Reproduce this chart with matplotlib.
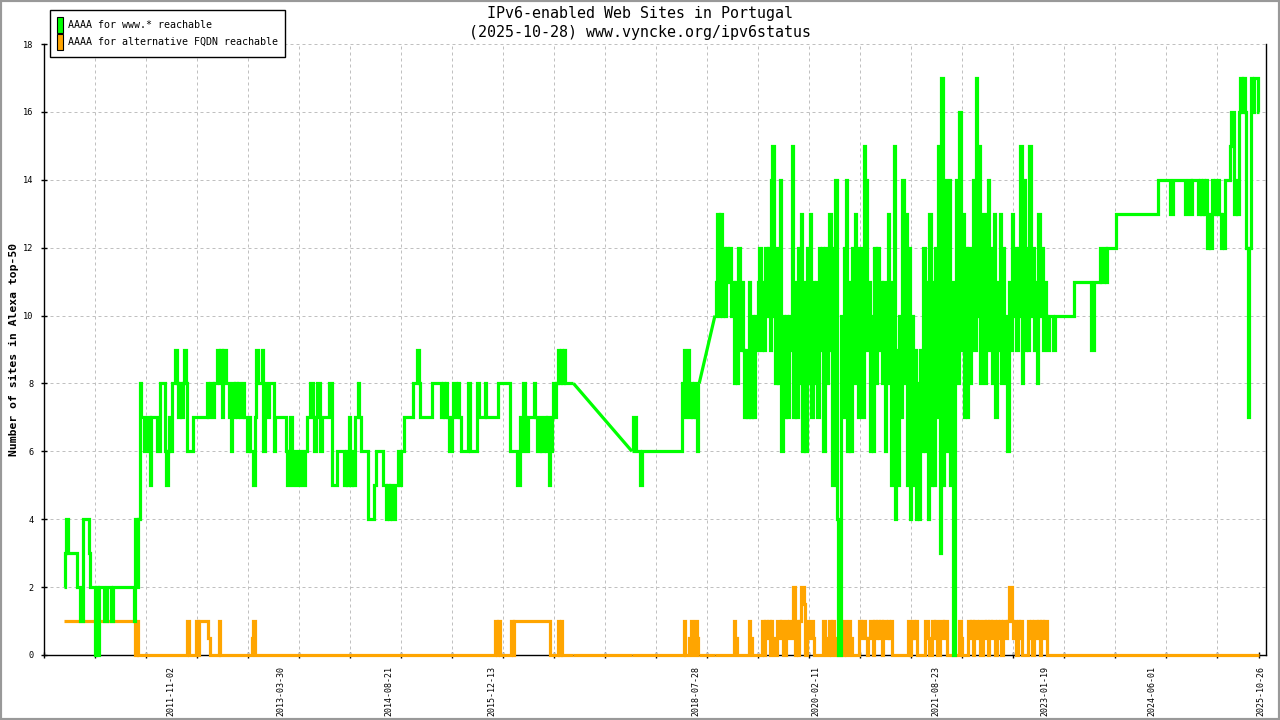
import numpy as np
import pandas as pd
import matplotlib
matplotlib.use('Agg')
import matplotlib.pyplot as plt
from matplotlib.patches import Patch, Rectangle

# weekly samples, three runs; the holes between runs are drawn as straight lines
start_a = '2010-06-19'
start_b = '2017-10-01'
start_c = '2018-10-25'
step = '7D'

# AAAA for www.* reachable
www_a1 = ([2, 3, 4, 3, 3, 3, 3, 3, 3, 2, 2, 1, 1, 4, 4, 4, 4, 3, 2, 2, 2, 0, 2, 0, 2,
           2, 2, 1, 1, 2, 2, 2, 1] + [2] * 14 + [1, 4, 2, 4])
www_a2 = ([8, 7, 7, 6, 6, 7, 7, 5, 7, 7, 7, 7, 6, 6, 8, 8, 8, 6, 5, 6, 7, 6,
           8, 8, 9, 8, 7, 8, 7, 8, 9, 8, 6, 6, 6, 6] + [7] * 9 +
          [8, 7, 8, 8, 7, 8, 8, 9, 8, 9, 7, 9, 9, 8, 8, 7, 6,
           8, 7, 8, 7, 8, 7, 7, 8, 7, 7, 6, 7, 6, 6, 5, 7, 9, 8, 8, 8, 9,
           6, 8, 7, 7, 8, 8, 8, 6] + [7] * 7 +
          [6, 5, 6, 7, 5, 6, 6, 5, 5, 6, 6, 5, 5, 6, 7, 7, 8, 8, 7, 6, 7, 8, 8,
           6, 7, 7, 7, 7, 7, 8, 8])
www_a3 = ([5, 5, 5, 6, 6, 6, 6, 6, 5, 6, 5, 7, 5, 6, 5, 7, 7, 8, 7] + [6] * 5 + [4] * 4 +
          [5] + [6] * 5 + [5, 5, 4, 5, 4, 5, 4, 4, 5, 5, 6, 5, 6, 6] + [7] * 6 +
          [8, 8, 8, 9, 8] + [7] * 8 + [8] * 6 + [7, 8, 7, 8, 7, 6, 6, 7, 8, 8, 7, 8, 7] +
          [6, 6, 6, 6, 6, 8, 6, 6, 6, 6, 6, 8, 7, 7, 7, 7, 8, 7] + [7] * 7 + [8] * 8 +
          [6, 6, 6, 6, 6, 5, 5, 7, 6, 8, 7, 6, 7, 7, 7, 7, 8, 7, 6, 6,
           7, 6, 6, 7, 6, 7, 5, 6, 7, 8, 7, 8, 9, 8, 9, 8, 9, 8] + [8] * 5)
www_b = [6, 7, 7, 6, 6, 6, 5, 6] + [6] * 26 + [8, 9, 7, 8, 9, 7, 8, 7, 8, 7, 6, 8]
www_c1 = [10, 11, 13, 10, 13, 10, 12, 10, 12, 11, 12, 10, 11, 8, 11, 8, 12, 9, 11, 9,
          7, 9, 7, 11, 7, 10, 7, 10, 9, 11, 12, 9, 11, 9, 12, 10, 12, 9, 14, 15,
          10, 8, 12, 8, 14, 6, 10, 7, 10, 7, 10, 9, 15, 7, 11, 7, 12, 8, 13, 6,
          11, 6, 12, 8, 13, 7, 11, 8, 11, 7, 12, 9, 12, 6, 12, 8, 11, 13, 9, 5,
          12, 14, 4, 0, 0, 10, 7, 12, 14, 6, 11, 6, 12, 8, 13, 9, 7, 12, 8, 7,
          15, 14, 9, 11, 6, 10, 6, 12, 8, 12, 9, 11, 8, 11, 6, 10, 13, 8, 5, 11]
www_c2 = [15, 4, 9, 5, 10, 7, 14, 8, 13, 5, 12, 4, 10, 5, 9, 4, 8, 4, 9, 6,
          12, 6, 11, 4, 13, 5, 11, 5, 12, 7, 15, 3, 17, 5, 14, 6, 12, 14, 5, 11,
          0, 9, 14, 8, 16, 9, 13, 7, 12, 7, 12, 8, 11, 14, 9, 17, 10, 15, 8, 13,
          10, 8, 13, 14, 9, 12, 8, 13, 7, 11, 9, 13, 8, 12, 10, 8, 6, 11, 9, 13,
          10, 12, 9, 12, 10, 15, 8, 14, 9, 12, 9, 15, 10, 12, 9, 11, 8, 13, 10, 12,
          9, 11, 10, 9, 10, 10, 10, 9, 10, 10]
www_c3 = ([10] * 11 + [11] * 11 + [9, 9] + [11] * 4 +
          [12, 11, 11, 12, 11, 12, 12, 12, 12, 12, 12] + [13] * 28 + [14] * 8 + [13, 13] +
          [14] * 8 + [13, 13, 14, 14, 13] + [14] * 4 +
          [13, 14, 13, 14, 13, 14, 12, 13, 12, 14, 13, 14, 13, 14, 13, 12, 13, 12] +
          [14, 14, 14, 15, 16, 16, 13, 14, 13, 16, 17, 16, 17, 16, 12, 7, 12, 17, 16, 17, 17, 17, 16])

# AAAA for alternative FQDN reachable
alt_a = ([1] * 48 + [0, 1, 0] + [0] * 32 + [1] + [0] * 4 +
         [0, 1, 0, 1, 1, 1, 1, 1, 1, 0.5, 0] + [0] * 5 + [1] + [0] * 21 + [0.5, 1] +
         [0] * 161 + [1, 0, 1] + [0] * 8 + [1, 0] + [1] * 24 + [0] * 5 + [1, 0, 1, 0] + [0] * 7)
alt_b = [0] * 35 + [1, 0, 0, 0, 0.5, 1, 0, 0, 1, 0.5, 0]
alt_c = ([0] * 13 + [1, 0.5] + [0] * 8 + [1, 0.5] + [0] * 7 +
         [1, 0, 1, 0.5, 1, 0, 1, 0.5, 0, 0] + [1, 1, 0.5, 1, 0, 0] +
         [1, 0.5, 1, 1, 0.5, 2, 0, 1, 0] + [1, 2, 2, 1.5, 0] + [1, 0.5, 1, 1, 0.5, 0] +
         [0] * 5 + [1, 0.5, 0, 0, 1, 0, 1, 0.5, 0] + [0] * 5 + [1, 0, 0] + [1, 0.5, 0] +
         [0] * 4 + [1, 0.5, 1, 1, 0.5, 0] + [0.5, 1, 1, 0] + [1, 0.5, 1, 0.5, 1, 0] +
         [1, 1, 0.5, 1, 0.5, 1, 0] + [0] * 10 + [1, 0, 0.5, 1, 0.5, 1, 0] + [0] * 4 +
         [1, 1, 0.5, 0, 0] + [1, 0.5, 1, 0] + [0, 1, 1, 0.5, 1, 1, 0] + [0] * 7 +
         [1, 0.5, 0] + [0] * 3 + [1, 0.5, 1, 0, 1, 1, 0.5, 1, 0, 0] +
         [1, 0.5, 1, 0, 1, 0.5, 1, 1, 0, 1, 0.5, 1, 0, 1, 1, 0.5, 1, 2, 2, 1, 0.5, 1, 0, 1, 0.5, 1] +
         [0] * 4 + [1, 0.5, 1, 0, 1, 1, 0.5, 1, 0, 1, 0.5, 1, 1] + [0] * 142)

tick_dates = ['2011-11-02', '2013-03-30', '2014-08-21', '2015-12-13', '2018-07-28',
              '2020-02-11', '2021-08-23', '2023-01-19', '2024-06-01', '2025-10-26']

title1 = 'IPv6-enabled Web Sites in Portugal'
title2 = '(2025-10-28) www.vyncke.org/ipv6status'
ylabel = 'Number of sites in Alexa top-50'
lab_www = 'AAAA for www.* reachable'
lab_alt = 'AAAA for alternative FQDN reachable'

green = '#00ff00'
orange = '#ffa500'
mono = 'DejaVu Sans Mono'

www = [www_a1 + www_a2 + www_a3, www_b, www_c1 + www_c2 + www_c3]
alt = [alt_a, alt_b, alt_c]
starts = [start_a, start_b, start_c]

fig = plt.figure(figsize=(12.8, 7.2), dpi=100)
ax = fig.add_axes([44 / 1280, 65 / 720, 1221.6 / 1280, 611 / 720])

xmin = pd.Timestamp('2010-03-17')
xmax = pd.Timestamp('2025-11-17')


def draw(series, color, z):
    last = None
    for s, vals in zip(starts, series):
        d = pd.date_range(s, periods=len(vals), freq=step)
        if last is not None:
            # hole in the data: straight connector
            ax.plot([last[0], d[0]], [last[1], vals[0]], color=color, lw=2.3,
                    clip_on=False, zorder=z, solid_capstyle='butt')
        ax.plot(d, vals, color=color, lw=2.3, drawstyle='steps-mid', clip_on=False,
                zorder=z, solid_joinstyle='miter', solid_capstyle='butt')
        last = (d[-1], vals[-1])
    return last


draw(alt, orange, 3)
end = draw(www, green, 4)

ax.set_xlim(xmin, xmax)
ax.set_ylim(0, 18)

# grid columns every 51 px like the original
x0 = matplotlib.dates.date2num(xmin)
cols = x0 + 238.9 * np.arange(0, 24)
for c in cols[1:]:
    ax.axvline(c, color='#c0c0c0', lw=0.72, ls=(0, (3, 3)), zorder=1)
ax.set_xticks(list(cols) + [matplotlib.dates.date2num(end[0])], minor=True)
ax.set_xticks(pd.to_datetime(tick_dates))
ax.set_xticklabels(tick_dates, rotation=90, fontsize=6, family=mono)
ax.tick_params(axis='x', which='major', length=0, pad=8)
ax.tick_params(axis='x', which='minor', direction='inout', length=5, width=1)

ax.set_yticks(range(0, 19, 2))
ax.set_yticklabels([str(v) for v in range(0, 19, 2)], fontsize=6.2, family=mono)
ax.tick_params(axis='y', direction='inout', length=5, width=1, pad=5)
ax.grid(axis='y', color='#c0c0c0', lw=0.72, ls=(0, (3, 3)), zorder=1)
ax.set_axisbelow(True)

ax.spines['top'].set_visible(False)
for k in ['left', 'right', 'bottom']:
    ax.spines[k].set_linewidth(1)
    ax.spines[k].set_color('black')

ax.set_ylabel(ylabel, family=mono, fontweight='bold', fontsize=8.2)
ax.yaxis.set_label_coords(-0.0205, 0.5)

fig.text(0.5, 1 - 13.5 / 720, title1, ha='center', va='center', family=mono, fontsize=10.8)
fig.text(0.5, 1 - 32.5 / 720, title2, ha='center', va='center', family=mono, fontsize=10.8)

handles = [Patch(facecolor=green, edgecolor='black', lw=0.8, label=lab_www),
           Patch(facecolor=orange, edgecolor='black', lw=0.8, label=lab_alt)]
leg = fig.legend(handles=handles, loc='upper left', bbox_to_anchor=(50 / 1280, 1 - 10 / 720),
                 bbox_transform=fig.transFigure, borderaxespad=0,
                 prop={'family': mono, 'size': 7.2}, handlelength=0.6, handleheight=2.08,
                 handletextpad=0.5, labelspacing=0.1, borderpad=0.7,
                 fancybox=False, edgecolor='black', framealpha=1)
leg.get_frame().set_linewidth(1)

fig.patches.append(Rectangle((0, 0), 1, 1, transform=fig.transFigure, fill=False,
                             edgecolor='#999999', lw=3))

fig.savefig('out.png', dpi=100)
